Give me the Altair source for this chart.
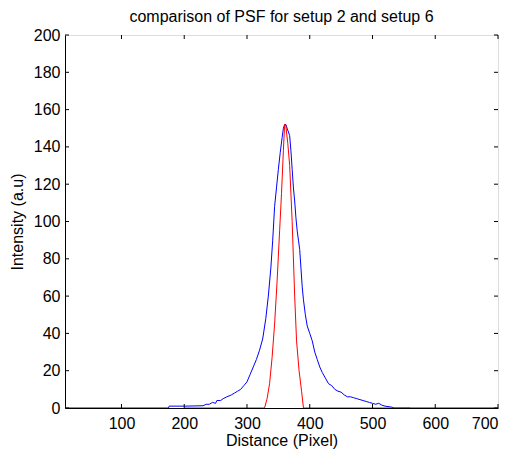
import altair as alt
import pandas as pd

# Blue curve (setup 2)
blue_x = [10, 11, 175, 176, 200, 230, 235, 240, 245, 250, 252, 258, 262, 268, 275, 280, 285, 290, 295, 300,
          305, 310, 315, 320, 325, 330, 334, 338, 341, 344, 347, 350, 353, 356, 358, 360, 362, 364, 366, 368,
          370, 372, 374, 376, 378, 380, 382, 384, 386, 388, 390, 393, 396, 400, 404, 408, 412, 416, 420, 425,
          430, 435, 440, 445, 450, 455, 460, 465, 470, 475, 480, 485, 490, 495, 500, 505, 510, 515, 520, 530,
          535, 700]
blue_y = [1.5, 0, 0, 1, 1, 1.2, 2, 2, 3, 2.5, 4, 4, 5, 6, 7, 8, 9, 10, 12, 14,
          18, 22, 26, 31, 37, 48, 60, 75, 90, 108, 118, 128, 137, 145, 150, 152, 152, 150, 148, 146,
          138, 128, 118, 111, 102, 95, 90, 85, 75, 65, 58, 50, 44, 40, 36, 30, 26, 22, 19, 16,
          13, 12, 10, 9, 8.5, 7, 6, 6, 5.5, 5, 4.5, 4, 3.5, 3, 2.5, 2, 2.5, 1.5, 1, 0.5,
          0, 0]

# Red curve (setup 6)
red_x = [200, 328, 332, 336, 340, 344, 348, 352, 355, 358, 360, 362, 365, 368, 372, 376, 379, 383, 387, 390, 560]
red_y = [0, 0, 5, 13, 27, 45, 68, 95, 115, 138, 152, 151, 142, 130, 100, 60, 36, 20, 9, 0, 0]

x_ticks = [100, 200, 300, 400, 500, 600, 700]
y_ticks = [0, 20, 40, 60, 80, 100, 120, 140, 160, 180, 200]

W, H = 433, 373
FONT = "Liberation Sans"
FS = 16

blue = pd.DataFrame({"x": blue_x, "y": blue_y, "i": range(len(blue_x))})
red = pd.DataFrame({"x": red_x, "y": red_y, "i": range(len(red_x))})
xt = pd.DataFrame({"t": x_ticks})
yt = pd.DataFrame({"t": y_ticks})

xscale = alt.Scale(domain=[10, 700], nice=False, zero=False)
yscale = alt.Scale(domain=[0, 200], nice=False)

xaxis = alt.Axis(values=x_ticks, title="Distance (Pixel)", grid=False, tickSize=0, labelPadding=7,
                 labelFontSize=FS, titleFontSize=FS, labelFont=FONT, titleFont=FONT,
                 titleFontWeight="normal", labelColor="black", titleColor="black",
                 domainColor="black", titlePadding=1, labelOverlap=False, labelFlush=True)
yaxis = alt.Axis(values=y_ticks, title="Intensity (a.u)", grid=False, tickSize=0, labelPadding=5,
                 labelFontSize=FS, titleFontSize=FS, labelFont=FONT, titleFont=FONT,
                 titleFontWeight="normal", labelColor="black", titleColor="black",
                 domainColor="black", titlePadding=8, labelOverlap=False, labelFlush=False)

blue_line = alt.Chart(blue).mark_line(color="#0000ff", strokeWidth=1, clip=True).encode(
    x=alt.X("x:Q", scale=xscale, axis=xaxis),
    y=alt.Y("y:Q", scale=yscale, axis=yaxis),
    order="i:Q",
)
red_line = alt.Chart(red).mark_line(color="#ff0000", strokeWidth=1, clip=True).encode(
    x=alt.X("x:Q", scale=xscale, axis=xaxis),
    y=alt.Y("y:Q", scale=yscale, axis=yaxis),
    order="i:Q",
)

tick_bottom = alt.Chart(xt).mark_rule(color="black", strokeWidth=1).encode(
    x=alt.X("t:Q", scale=xscale, axis=xaxis), y=alt.value(H), y2=alt.value(H - 4))
tick_top = alt.Chart(xt).mark_rule(color="black", strokeWidth=1).encode(
    x=alt.X("t:Q", scale=xscale, axis=xaxis), y=alt.value(0), y2=alt.value(4))
tick_left = alt.Chart(yt).mark_rule(color="black", strokeWidth=1).encode(
    y=alt.Y("t:Q", scale=yscale, axis=yaxis), x=alt.value(0), x2=alt.value(4))
tick_right = alt.Chart(yt).mark_rule(color="black", strokeWidth=1).encode(
    y=alt.Y("t:Q", scale=yscale, axis=yaxis), x=alt.value(W - 4), x2=alt.value(W))

chart = alt.layer(blue_line, red_line, tick_bottom, tick_top, tick_left, tick_right).properties(
    width=W, height=H,
    title=alt.TitleParams("comparison of PSF for setup 2 and setup 6", fontSize=FS, font=FONT,
                          fontWeight="normal", color="black", offset=2),
    autosize=alt.AutoSizeParams(type="none"),
    padding={"left": 57, "top": 27, "right": 6, "bottom": 43},
).configure_view(stroke="black", strokeWidth=1).configure(background="white")

chart.save("out.html", embed_options={"renderer": "svg", "actions": False})
